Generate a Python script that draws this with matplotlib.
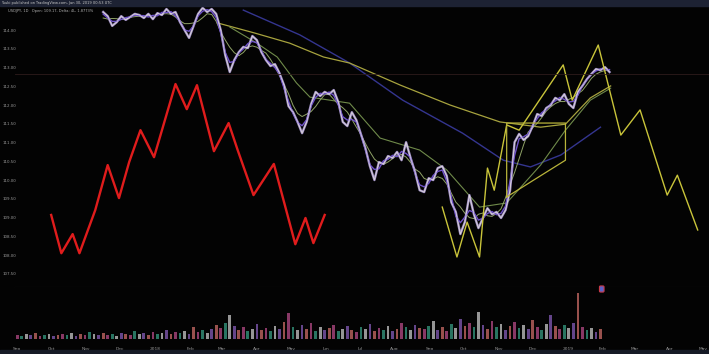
import matplotlib
matplotlib.use("Agg")
import matplotlib.pyplot as plt
import matplotlib.dates as mdates
from matplotlib.patches import Rectangle
import pandas as pd

#--- price closes, every 4 days from 2017-11-16
price_start = "2017-11-16"
closes = [114.48, 114.37, 114.11, 114.21, 114.37, 114.27, 114.35, 114.43, 114.40, 114.32,
          114.43, 114.29, 114.45, 114.40, 114.56, 114.43, 114.48, 114.21, 114.00, 113.79,
          114.11, 114.43, 114.59, 114.48, 114.56, 114.43, 114.00, 113.33, 112.88, 113.20,
          113.41, 113.55, 113.52, 113.84, 113.73, 113.41, 113.20, 113.04, 113.09, 112.85,
          112.53, 111.97, 111.81, 111.55, 111.25, 111.55, 112.03, 112.35, 112.24, 112.35,
          112.29, 112.40, 112.08, 111.55, 111.44, 111.81, 111.60, 111.23, 110.85, 110.37,
          110.00, 110.48, 110.43, 110.64, 110.59, 110.75, 110.53, 111.01, 110.59, 110.21,
          109.73, 109.68, 110.05, 110.00, 110.32, 110.37, 110.11, 109.41, 109.15, 108.56,
          108.88, 109.60, 109.09, 108.72, 108.99, 109.25, 109.09, 109.15, 108.99, 109.20,
          109.73, 111.01, 111.23, 111.07, 111.17, 111.44, 111.76, 111.71, 111.92, 112.00,
          112.19, 112.13, 112.29, 112.03, 111.92, 112.35, 112.51, 112.69, 112.83, 112.96,
          112.93, 113.01, 112.88]

#--- moving averages
ma_blue_dates = ["2018-03-20", "2018-05-09", "2018-06-22", "2018-08-08", "2018-09-30",
                 "2018-11-05", "2018-11-29", "2018-12-26", "2019-01-30"]
ma_blue = [114.53, 113.87, 113.12, 112.13, 111.25, 110.53, 110.35, 110.67, 111.41]

ma_yellow_dates = ["2018-02-25", "2018-03-30", "2018-04-30", "2018-05-30", "2018-06-22",
                   "2018-08-06", "2018-09-19", "2018-11-02", "2018-12-08", "2018-12-30",
                   "2019-01-21", "2019-02-08"]
ma_yellow = [114.19, 113.92, 113.65, 113.28, 113.12, 112.53, 112.00, 111.55, 111.41, 111.49,
             112.19, 112.51]

ma_green_dates = ["2018-03-08", "2018-04-01", "2018-04-19", "2018-05-06", "2018-05-18",
                  "2018-06-22", "2018-07-19", "2018-08-23", "2018-09-16", "2018-10-15",
                  "2018-11-08", "2018-12-08", "2018-12-30", "2019-01-21", "2019-02-08"]
ma_green = [114.08, 113.65, 113.28, 112.59, 112.21, 112.05, 111.12, 110.80, 110.27, 109.28,
            109.39, 110.40, 111.33, 112.13, 112.45]

#--- red fractal drawing
red_dates = ["2017-10-01", "2017-10-10", "2017-10-20", "2017-10-26", "2017-11-09", "2017-11-20",
             "2017-11-30", "2017-12-09", "2017-12-19", "2017-12-31", "2018-01-19", "2018-01-29",
             "2018-02-07", "2018-02-22", "2018-03-07", "2018-03-15", "2018-03-29", "2018-04-16",
             "2018-05-05", "2018-05-14", "2018-05-21", "2018-05-31"]
red_vals = [109.07, 108.05, 108.56, 108.05, 109.20, 110.40, 109.52, 110.48, 111.33, 110.61,
            112.56, 111.89, 112.53, 110.77, 111.52, 110.80, 109.60, 110.43, 108.29, 108.99,
            108.32, 109.07]

#--- yellow zigzag drawing (past swings + projection)
zig_dates = ["2018-09-12", "2018-09-25", "2018-10-04", "2018-10-15", "2018-10-22", "2018-10-28",
             "2018-11-08", "2018-11-19", "2018-12-28", "2019-01-05", "2019-01-28", "2019-02-17",
             "2019-03-06", "2019-03-30", "2019-04-08", "2019-04-26"]
zig_vals = [109.28, 107.95, 108.88, 107.95, 110.32, 109.73, 111.47, 111.33, 113.07, 112.13,
            113.60, 111.20, 111.87, 109.60, 110.13, 108.67]

box_dates = ["2018-11-08", "2018-11-08", "2018-12-30", "2018-12-30", "2018-11-08"]
box_vals = [109.55, 111.52, 111.52, 110.53, 109.55]

#--- volume, every 4 days from 2017-09-01
vol_start = "2017-09-01"
volume = [4, 3, 5, 4, 6, 3, 4, 5, 3, 4,
          5, 4, 6, 3, 5, 4, 7, 5, 4, 6,
          4, 5, 3, 6, 5, 4, 8, 5, 6, 4,
          7, 5, 6, 9, 5, 7, 6, 8, 5, 12,
          7, 9, 6, 10, 14, 11, 16, 24, 13, 9,
          12, 8, 10, 15, 9, 11, 8, 13, 10, 17,
          26, 12, 9, 14, 10, 16, 8, 12, 9, 11,
          14, 8, 10, 13, 9, 7, 12, 10, 15, 8,
          11, 9, 13, 8, 10, 16, 12, 9, 14, 11,
          10, 13, 18, 9, 12, 8, 15, 11, 20, 13,
          16, 12, 27, 14, 10, 18, 12, 15, 9, 13,
          17, 11, 14, 10, 19, 12, 9, 15, 24, 13,
          10, 14, 11, 16, 46, 12, 9, 11, 7, 10]

y_ticks = [114.0, 113.5, 113.0, 112.5, 112.0, 111.5, 111.0, 110.5, 110.0, 109.5, 109.0,
           108.5, 108.0, 107.5]
level_line = 112.83

bg = "#030303"
W, H = 709, 354
fig = plt.figure(figsize=(W / 100, H / 100), dpi=100, facecolor=bg)

ax = fig.add_axes([15 / W, 1 - 287 / H, 694 / W, 281 / H], facecolor=bg)
axv = fig.add_axes([15 / W, 1 - 339 / H, 694 / W, 52 / H], facecolor=bg, sharex=ax)

price_dates = pd.date_range(price_start, periods=len(closes), freq="4D")
s = pd.Series(closes, index=price_dates)

# MAs and drawings
ax.plot(pd.to_datetime(ma_blue_dates), ma_blue, color="#34358f", lw=1.0)
ax.plot(pd.to_datetime(ma_yellow_dates), ma_yellow, color="#a7a33e", lw=0.9)
ax.plot(pd.to_datetime(ma_green_dates), ma_green, color="#6f8a4a", lw=0.8)
ax.plot(s.index, s.rolling(6, center=True, min_periods=1).mean(), color="#8fa266", lw=0.7)

# price texture
ax.plot(s.index, s.values, color="#b9a6e6", lw=1.7, alpha=0.85)
ax.plot(s.index, s.rolling(3, center=True, min_periods=1).mean(), color="#6f52c9", lw=1.0)
ax.plot(s.index, s.values, color="#eeeae0", lw=0.6, alpha=0.8)

ax.plot(pd.to_datetime(zig_dates), zig_vals, color="#c9c43a", lw=1.0)
ax.plot(pd.to_datetime(box_dates), box_vals, color="#b9b43a", lw=0.9)
ax.plot(pd.to_datetime(red_dates), red_vals, color="#e01c1c", lw=1.7)

ax.axhline(level_line, color="#2e1c1c", lw=0.6)

x0 = pd.Timestamp("2017-08-30")
x1 = pd.Timestamp("2019-05-06")
ax.set_xlim(x0, x1)
ax.set_ylim(107.15, 114.64)
ax.set_yticks(y_ticks)
ax.set_yticklabels([f"{v:.2f}" for v in y_ticks])
ax.tick_params(axis="y", length=0, pad=8.6, labelsize=2.9, labelcolor="#9a9a9a")
for lab in ax.get_yticklabels():
    lab.set_ha("left")
ax.tick_params(axis="x", length=0, labelbottom=False)
for sp in ax.spines.values():
    sp.set_visible(False)
ax.spines["bottom"].set_visible(True)
ax.spines["bottom"].set_color("#262626")
ax.spines["bottom"].set_linewidth(0.8)

# volume
vol_dates = pd.date_range(vol_start, periods=len(volume), freq="4D")
vol_colors = ["#c2508f", "#3aa58a", "#d6d6d6", "#8e62c4", "#d9736e"]
cols = [vol_colors[i % len(vol_colors)] for i in range(len(volume))]
axv.bar(vol_dates, volume, width=2.4, color=cols, alpha=0.7)
axv.set_ylim(0, 52)
axv.set_yticks([])
for sp in axv.spines.values():
    sp.set_visible(False)

axv.xaxis.set_major_locator(mdates.MonthLocator())
axv.xaxis.set_major_formatter(
    plt.FuncFormatter(lambda v, p: mdates.num2date(v).strftime("%Y") if mdates.num2date(v).month == 1
                      else mdates.num2date(v).strftime("%b")))
axv.tick_params(axis="x", length=0, pad=6, labelsize=3.2, labelcolor="#9a9a9a")

axv.text(pd.Timestamp("2019-01-30"), 49, "  ", fontsize=3,
         bbox=dict(boxstyle="round,pad=0.25", fc="#5a62c8", ec="#c83a4a", lw=0.8))

# header and bottom bars
fig.patches.append(Rectangle((0, 1 - 6 / H), 1, 6 / H, transform=fig.transFigure,
                             color="#1d2233", zorder=5))
fig.patches.append(Rectangle((0, 0), 1, 4 / H, transform=fig.transFigure,
                             color="#161a26", zorder=5))
fig.text(0.002, 1 - 3 / H, "Yuuki published on TradingView.com, Jan 30, 2019 00:53 UTC",
         fontsize=2.6, color="#c8c8c8", va="center", zorder=6)
fig.text(0.011, 1 - 11 / H, "USDJPY, 1D   Open: 109.17, Delta: 4L, 1.8773%",
         fontsize=2.6, color="#b0b0b0", va="center")

fig.savefig("out.png", dpi=100, facecolor=bg)
